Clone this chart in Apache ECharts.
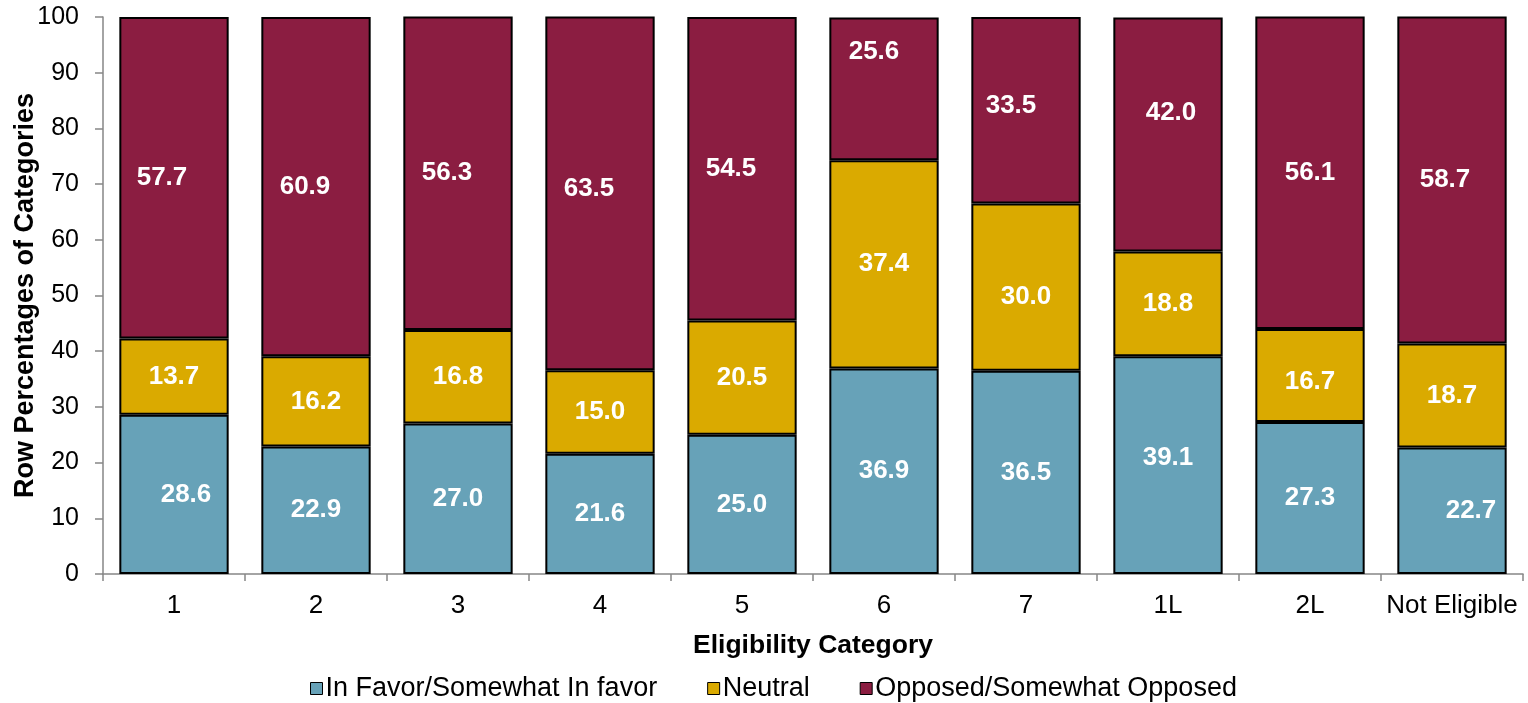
<!DOCTYPE html>
<html>
<head>
<meta charset="utf-8">
<script src="https://cdn.jsdelivr.net/npm/echarts@6/dist/echarts.min.js"></script>
<style>
html,body{margin:0;padding:0;background:#fff;}
#chart{width:1528px;height:703px;}
</style>
</head>
<body>
<div id="chart"></div>
<script>
const categories = ['1', '2', '3', '4', '5', '6', '7', '1L', '2L', 'Not Eligible'];
const inFavor = [28.6, 22.9, 27.0, 21.6, 25.0, 36.9, 36.5, 39.1, 27.3, 22.7];
const neutral = [13.7, 16.2, 16.8, 15.0, 20.5, 37.4, 30.0, 18.8, 16.7, 18.7];
const opposed = [57.7, 60.9, 56.3, 63.5, 54.5, 25.6, 33.5, 42.0, 56.1, 58.7];
const seriesNames = ['In Favor/Somewhat In favor', 'Neutral', 'Opposed/Somewhat Opposed'];
const yTicks = [0, 10, 20, 30, 40, 50, 60, 70, 80, 90, 100];

// label nudges (style only), keyed "series:category" -> [dx, dy]
const labelNudge = {
  '0:0': [12, 0], '0:7': [0, -7], '0:9': [19, 0],
  '1:6': [0, 10], '1:8': [0, 6],
  '2:0': [-12, 0], '2:1': [-11, 0], '2:2': [-11, 0], '2:3': [-11, -4], '2:4': [-11, 0],
  '2:5': [-10, -37], '2:6': [-15, -4], '2:7': [3, -22], '2:9': [-7, 0]
};

const colors = ['#67A2B8', '#DAAA00', '#8B1D41'];
const FONT = '"Liberation Sans", Arial, sans-serif';

function buildSeries(idx, values) {
  return {
    name: seriesNames[idx],
    type: 'bar',
    stack: 'total',
    barCategoryGap: '23%',
    itemStyle: { color: colors[idx], borderColor: '#000', borderWidth: 2 },
    emphasis: { disabled: true },
    data: values.map((v, i) => {
      const n = labelNudge[idx + ':' + i];
      const item = { value: v };
      if (n) item.label = { offset: n };
      return item;
    }),
    label: {
      show: true,
      position: 'inside',
      color: '#fff',
      fontWeight: 'bold',
      fontSize: 26,
      fontFamily: FONT,
      formatter: p => p.value.toFixed(1)
    }
  };
}

const chart = echarts.init(document.getElementById('chart'), null, { renderer: 'canvas' });
chart.setOption({
  animation: false,
  backgroundColor: '#fff',
  textStyle: { fontFamily: FONT },
  grid: { left: 103, right: 5, top: 17, bottom: 129, containLabel: false, outerBoundsMode: 'none' },
  legend: {
    top: 670,
    left: 305,
    itemWidth: 12,
    itemHeight: 12,
    itemGap: 50,
    icon: 'rect',
    itemStyle: { borderColor: '#000', borderWidth: 1 },
    textStyle: { fontSize: 27, color: '#000', fontFamily: FONT, padding: [0, 0, 0, -2] },
    data: seriesNames
  },
  xAxis: {
    type: 'category',
    data: categories,
    name: 'Eligibility Category',
    nameLocation: 'middle',
    nameGap: 58,
    nameMoveOverlap: false,
    nameTextStyle: { fontSize: 26.5, fontWeight: 'bold', color: '#000', fontFamily: FONT },
    axisLine: { lineStyle: { color: '#868686', width: 1.5 } },
    axisTick: { show: true, length: 7, lineStyle: { color: '#868686', width: 1.5 } },
    axisLabel: { interval: 0, fontSize: 26, color: '#000', margin: 19, fontFamily: FONT }
  },
  yAxis: {
    type: 'value',
    min: 0,
    max: 100,
    interval: 10,
    name: 'Row Percentages of Categories',
    nameLocation: 'middle',
    nameGap: 64,
    nameMoveOverlap: false,
    nameRotate: 90,
    nameTextStyle: { fontSize: 27, fontWeight: 'bold', color: '#000', fontFamily: FONT },
    splitLine: { show: false },
    axisLine: { show: true, lineStyle: { color: '#868686', width: 1.5 } },
    axisTick: { show: true, length: 8, lineStyle: { color: '#868686', width: 1.5 } },
    axisLabel: {
      fontSize: 25, color: '#000', margin: 24, fontFamily: FONT,
      formatter: v => (yTicks.indexOf(v) >= 0 ? String(v) : '')
    }
  },
  series: [
    buildSeries(0, inFavor),
    buildSeries(1, neutral),
    buildSeries(2, opposed)
  ]
});
</script>
</body>
</html>
